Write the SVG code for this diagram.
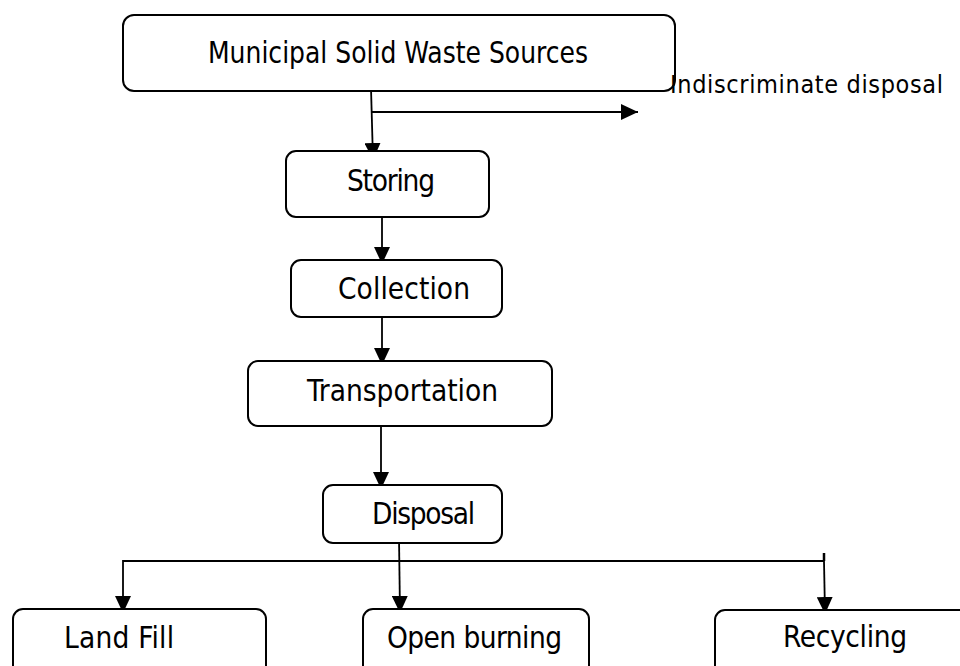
<svg xmlns="http://www.w3.org/2000/svg" width="960" height="666" viewBox="0 0 960 666">
<style>
.box{fill:#fff;stroke:#000;stroke-width:2}
.t{font-family:"DejaVu Sans Condensed","DejaVu Sans",sans-serif;font-size:29.5px;fill:#000}
.s{font-size:25px}
.c{stroke:#000;stroke-width:1.8;fill:none}
.a{marker-end:url(#ah)}
</style>
<defs>
<marker id="ah" markerUnits="userSpaceOnUse" markerWidth="17" markerHeight="16" refX="17" refY="8" orient="auto" viewBox="0 0 17 16">
<path d="M0,0 L17,8 L0,16 z" fill="#000"/>
</marker>
</defs>
<rect width="960" height="666" fill="#fff"/>
<g id="connectors">
<line class="c a" x1="371" y1="88" x2="373" y2="160"/>
<line class="c a" x1="372" y1="112" x2="638" y2="112"/>
<line class="c a" x1="382" y1="213" x2="382" y2="264"/>
<line class="c a" x1="382" y1="312" x2="382" y2="365"/>
<line class="c a" x1="381" y1="426" x2="381" y2="489"/>
<line class="c a" x1="399" y1="538" x2="400" y2="613"/>
<line class="c" x1="123" y1="561" x2="824" y2="561"/>
<line class="c" x1="824" y1="553" x2="824" y2="561" style="stroke-width:2.5"/>
<line class="c a" x1="123" y1="560" x2="123" y2="613"/>
<line class="c a" x1="824" y1="561" x2="825" y2="614"/>
</g>
<g id="sources">
<rect class="box" x="123" y="15" width="552" height="76" rx="11"/>
<text class="t" x="208" y="63" textLength="380" lengthAdjust="spacingAndGlyphs">Municipal Solid Waste Sources</text>
</g>
<g id="indiscriminate">
<text class="t s" x="670" y="93" textLength="273">Indiscriminate disposal</text>
</g>
<g id="storing">
<rect class="box" x="286" y="151" width="203" height="66" rx="10"/>
<text class="t" x="347" y="191" textLength="88">Storing</text>
</g>
<g id="collection">
<rect class="box" x="291" y="260" width="211" height="57" rx="10"/>
<text class="t" x="338" y="299" textLength="132">Collection</text>
</g>
<g id="transportation">
<rect class="box" x="248" y="361" width="304" height="65" rx="10"/>
<text class="t" x="307" y="401" textLength="191">Transportation</text>
</g>
<g id="disposal">
<rect class="box" x="323" y="485" width="179" height="58" rx="10"/>
<text class="t" x="372" y="524" textLength="103">Disposal</text>
</g>
<g id="landfill">
<rect class="box" x="13" y="609" width="253" height="80" rx="10"/>
<text class="t" x="64" y="648" textLength="110">Land Fill</text>
</g>
<g id="openburning">
<rect class="box" x="363" y="609" width="226" height="80" rx="10"/>
<text class="t" x="387" y="648" textLength="175">Open burning</text>
</g>
<g id="recycling">
<rect class="box" x="715" y="610" width="265" height="80" rx="10"/>
<text class="t" x="783" y="647" textLength="124">Recycling</text>
</g>
</svg>
